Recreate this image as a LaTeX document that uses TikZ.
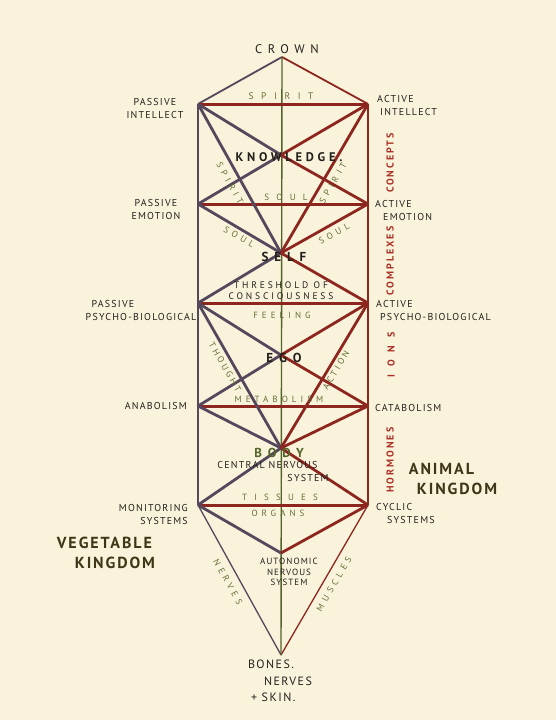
\documentclass[tikz,border=0pt]{standalone}
\usepackage{fontspec}
\setsansfont{PT Sans}
\newfontfamily\hand[LetterSpace=12]{PT Sans}
\newfontfamily\snug[LetterSpace=20]{PT Sans}
\newfontfamily\spread[LetterSpace=45]{PT Sans}
\newfontfamily\airy[LetterSpace=80]{PT Sans}
\newfontfamily\tight[LetterSpace=30]{PT Sans}
\definecolor{paper}{RGB}{249,243,220}
\definecolor{ink}{RGB}{35,32,28}
\definecolor{rust}{RGB}{140,38,30}
\definecolor{plum}{RGB}{86,72,92}
\definecolor{olive}{RGB}{84,100,40}
\definecolor{moss}{RGB}{100,112,55}
\definecolor{redink}{RGB}{172,45,35}
\definecolor{umber}{RGB}{62,54,22}

\begin{document}
\begin{tikzpicture}[x=1pt, y=-1pt,
    lbl/.style={font=\hand\fontsize{10}{13}\selectfont, text=ink, inner sep=0pt, align=center},
    core/.style={font=\tight\bfseries\fontsize{12.5}{14}\selectfont, text=ink, inner sep=0pt},
    faint/.style={font=\spread\fontsize{9}{11}\selectfont, text=moss, inner sep=0pt},
    vert/.style={font=\snug\bfseries\fontsize{10}{11}\selectfont, text=redink, inner sep=0pt, rotate=90},
    realm/.style={font=\hand\bfseries\fontsize{16}{20}\selectfont, text=umber, inner sep=0pt, align=left},
    bar/.style={rust, line width=3pt},
    lhand/.style={plum, line width=2.8pt},
    rhand/.style={rust, line width=2.8pt}]
    \fill [paper] (0,0) rectangle (556,720);
    \useasboundingbox (0,0) rectangle (556,720);
    % points of the tree
    \coordinate (crown) at (282,57);
    \coordinate (pi) at (198,104);
    \coordinate (ai) at (368,104);
    \coordinate (pe) at (198,204);
    \coordinate (ae) at (368,204);
    \coordinate (pp) at (198,303);
    \coordinate (ap) at (368,303);
    \coordinate (an) at (198,406);
    \coordinate (ca) at (368,406);
    \coordinate (mo) at (198,505);
    \coordinate (cy) at (368,505);
    \coordinate (know) at (281,155);
    \coordinate (self) at (281,253);
    \coordinate (ego) at (281,355);
    \coordinate (body) at (281,448);
    \coordinate (auto) at (281,553);
    \coordinate (bones) at (281,655);
    % sides and middle
    \draw [plum, line width=1.8pt] (pi) -- (mo);
    \draw [rust, line width=1.8pt] (ai) -- (cy);
    \draw [plum, line width=1.8pt] (crown) -- (pi);
    \draw [rust, line width=1.8pt] (crown) -- (ai);
    \draw [plum, line width=1.3pt] (mo) -- (bones);
    \draw [rust, line width=1.3pt] (cy) -- (bones);
    \draw [olive, line width=1.4pt] (crown) -- (bones);
    \foreach \l/\r in {pi/ai, pe/ae, pp/ap, an/ca, mo/cy}
        \draw [bar] (\l) -- (\r);
    \foreach \c/\m in {pi/know, pe/know, pi/self, pe/self, pp/self, pp/ego, an/ego, pp/body, an/body, mo/body, mo/auto}
        \draw [lhand] (\c) -- (\m);
    \foreach \c/\m in {ai/know, ae/know, ai/self, ae/self, ap/self, ap/ego, ca/ego, ap/body, ca/body, cy/body, cy/auto}
        \draw [rhand] (\c) -- (\m);
    % outer labels
    \node [font=\spread\fontsize{12.5}{14}\selectfont, text=ink, inner sep=0pt] (tcrown) at (287,49) {CROWN};
    \node [lbl] (tpi) at (155,108) {PASSIVE\\INTELLECT};
    \node [lbl] (tpe) at (156,209) {PASSIVE\\EMOTION};
    \node [lbl, align=left] (tpp) at (141,310) {\hspace{6pt}PASSIVE\\PSYCHO-BIOLOGICAL};
    \node [lbl, anchor=east] (tan) at (187,406) {ANABOLISM};
    \node [lbl, align=right, anchor=east] (tmo) at (188,514) {MONITORING\\SYSTEMS};
    \node [lbl, align=left, anchor=west] (tai) at (377,105) {ACTIVE\\\hspace{3pt}INTELLECT};
    \node [lbl, align=left, anchor=west] (tae) at (375,210) {ACTIVE\\\hspace{8pt}EMOTION};
    \node [lbl, align=left, anchor=west] (tap) at (376,310) {ACTIVE\\\hspace{4pt}PSYCHO-BIOLOGICAL};
    \node [lbl, anchor=west] (tca) at (375,408) {CATABOLISM};
    \node [lbl, align=left, anchor=west] (tcy) at (376,513) {CYCLIC\\\hspace{11pt}SYSTEMS};
    \node [realm] (tanimal) at (453,479) {ANIMAL\\\hspace{8pt}KINGDOM};
    \node [realm] (tveg) at (106,553) {VEGETABLE\\\hspace{18pt}KINGDOM};
    \node [vert] (tconcepts) at (390,163) {CONCEPTS};
    \node [vert] (tcomplexes) at (390,261) {COMPLEXES};
    \node [vert, font=\airy\bfseries\fontsize{10}{11}\selectfont] (tions) at (391,355) {IONS};
    \node [vert] (thormones) at (390,460) {HORMONES};
    % inner labels
    \node [core] (tknow) at (289,157) {KNOWLEDGE.};
    \node [core, font=\spread\bfseries\fontsize{13}{14}\selectfont] (tself) at (284,257) {SELF};
    \node [core, font=\spread\bfseries\fontsize{13}{14}\selectfont] (tego) at (284,358) {EGO};
    \node [core, text=olive, font=\spread\bfseries\fontsize{13}{14}\selectfont] (tbody) at (279,453) {BODY};
    \node [faint, font=\airy\fontsize{9.5}{11}\selectfont] (tspirit) at (281,96) {SPIRIT};
    \node [faint, rotate=-61] (tspl) at (230,183) {SPIRIT};
    \node [faint, rotate=60] (tspr) at (333,183) {SPIRIT};
    \node [faint, font=\airy\fontsize{9}{11}\selectfont] (tsoul) at (286,197) {SOUL};
    \node [faint, rotate=-31] (tsol) at (239,237) {SOUL};
    \node [faint, rotate=29] (tsor) at (334,234) {SOUL};
    \node [lbl, font=\tight\fontsize{9.5}{11}\selectfont] (tthres) at (281,291) {THRESHOLD OF\\CONSCIOUSNESS};
    \node [faint] (tfeel) at (282,315) {FEELING};
    \node [faint, font=\tight\fontsize{9}{11}\selectfont, rotate=-60] (tthought) at (225,367) {THOUGHT};
    \node [faint, font=\tight\fontsize{9}{11}\selectfont, rotate=59] (taction) at (336,370) {ACTION};
    \node [faint] (tmeta) at (279,399) {METABOLISM};
    \node [lbl, align=left] (tcns) at (273,471) {CENTRAL NERVOUS\\\hspace{70pt}SYSTEM};
    \node [faint, font=\airy\fontsize{9}{11}\selectfont] (ttis) at (280,497) {TISSUES};
    \node [faint] (torg) at (278,513) {ORGANS};
    \node [lbl, font=\hand\fontsize{9}{10.5}\selectfont] (tauto) at (289,572) {AUTONOMIC\\NERVOUS\\SYSTEM};
    \node [faint, rotate=-61] (tnerves) at (228,582) {NERVES};
    \node [faint, rotate=60] (tmuscles) at (334,584) {MUSCLES};
    \node [lbl, font=\hand\fontsize{12}{16.5}\selectfont, align=left] (tbones) at (280,681) {BONES.\\\hspace{16pt}NERVES\\\hspace{3pt}+ SKIN.};
\end{tikzpicture}
\end{document}
